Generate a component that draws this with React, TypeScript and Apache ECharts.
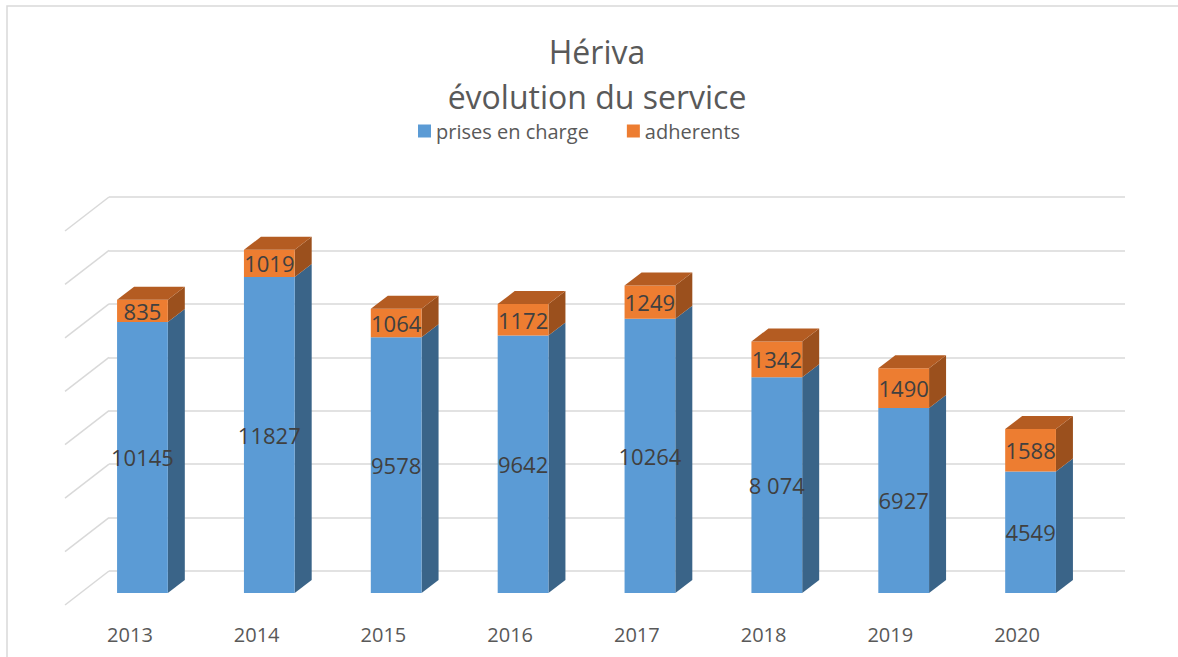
import React, { useEffect, useRef } from "react";
import * as echarts from "echarts";

const years = ["2013", "2014", "2015", "2016", "2017", "2018", "2019", "2020"];
const prises = [10145, 11827, 9578, 9642, 10264, 8074, 6927, 4549];
const prisesLabels = ["10145", "11827", "9578", "9642", "10264", "8 074", "6927", "4549"];
const adherents = [835, 1019, 1064, 1172, 1249, 1342, 1490, 1588];
const adherentsLabels = adherents.map((v) => String(v));
const yTicks = [0, 2000, 4000, 6000, 8000, 10000, 12000, 14000];

const FONT = "Open Sans";
const DX = 17;
const DY = -13;

function barRender(labels: string[], front: string, side: string, top: string, showTop: boolean) {
  return (params: any, api: any) => {
    const i = api.value(0);
    const base = api.value(1);
    const v = api.value(2);
    const p0 = api.coord([i, base]);
    const p1 = api.coord([i, base + v]);
    const band = api.size([1, 0])[0];
    const w = band * 0.4;
    const xl = p0[0] - w / 2;
    const xr = p0[0] + w / 2;
    const yb = p0[1];
    const yt = p1[1];
    const children: any[] = [
      {
        type: "polygon",
        shape: { points: [[xr, yb], [xr + DX, yb + DY], [xr + DX, yt + DY], [xr, yt]] },
        style: { fill: side },
      },
      { type: "rect", shape: { x: xl, y: yt, width: w, height: yb - yt }, style: { fill: front } },
    ];
    if (showTop) {
      children.push({
        type: "polygon",
        shape: { points: [[xl, yt], [xr, yt], [xr + DX, yt + DY], [xl + DX, yt + DY]] },
        style: { fill: top },
      });
    }
    children.push({
      type: "text",
      style: {
        text: labels[params.dataIndex],
        x: (xl + xr) / 2,
        y: (yb + yt) / 2,
        align: "center",
        verticalAlign: "middle",
        textAlign: "center",
        textVerticalAlign: "middle",
        fontSize: 22,
        fontFamily: FONT,
        fill: "#404040",
      },
    });
    return { type: "group", children };
  };
}

export default function App() {
  const ref = useRef<HTMLDivElement>(null);
  useEffect(() => {
    if (!ref.current) return;
    const chart = echarts.init(ref.current, null, { renderer: "svg" });
    const option: any = {
      animation: false,
      backgroundColor: "#ffffff",
      graphic: [
        {
          type: "rect",
          silent: true,
          z: -10,
          shape: { x: 7, y: 6, width: 1300, height: 800 },
          style: { fill: "none", stroke: "#d9d9d9", lineWidth: 1.5 },
        },
        {
          type: "text",
          style: {
            text: "Hériva",
            x: 597,
            y: 51,
            align: "center",
            verticalAlign: "middle",
            textAlign: "center",
            textVerticalAlign: "middle",
            fontSize: 32,
            fontFamily: FONT,
            fill: "#595959",
          },
        },
        {
          type: "text",
          style: {
            text: "évolution du service",
            x: 597,
            y: 96,
            align: "center",
            verticalAlign: "middle",
            textAlign: "center",
            textVerticalAlign: "middle",
            fontSize: 32,
            fontFamily: FONT,
            fill: "#595959",
          },
        },
      ],
      legend: {
        data: ["prises en charge", "adherents"],
        left: 413,
        top: 116,
        icon: "rect",
        itemWidth: 13,
        itemHeight: 13,
        itemGap: 38,
        textStyle: { fontSize: 20, fontFamily: FONT, color: "#595959" },
      },
      grid: [
        { left: 109, right: 53, top: 197, height: 374 },
        { left: 79, right: 84, top: 219, height: 374 },
        { left: 66.6, right: 97.6, top: 592, height: 2 },
      ],
      xAxis: [
        { gridIndex: 0, type: "category", data: years, show: false },
        { gridIndex: 1, type: "category", data: years, show: false },
        {
          gridIndex: 2,
          type: "category",
          data: years,
          axisLine: { show: false },
          axisTick: { show: false },
          axisLabel: { margin: 30, fontSize: 20, fontFamily: FONT, color: "#595959" },
        },
      ],
      yAxis: [
        {
          gridIndex: 0,
          type: "value",
          min: 0,
          max: 14000,
          interval: 2000,
          axisLabel: { show: false },
          axisLine: { show: false },
          axisTick: { show: false },
          splitLine: { show: true, lineStyle: { color: "#d9d9d9", width: 1.5 } },
        },
        { gridIndex: 1, type: "value", min: 0, max: 14000, interval: 2000, show: false, splitLine: { show: false } },
        { gridIndex: 2, type: "value", min: 0, max: 1, show: false, splitLine: { show: false } },
      ],
      series: [
        {
          type: "custom",
          name: "walls",
          xAxisIndex: 0,
          yAxisIndex: 0,
          silent: true,
          data: yTicks.map((v) => [0, v]),
          encode: { x: 0, y: 1 },
          renderItem: (params: any, api: any) => {
            const p = api.coord([0, api.value(1)]);
            const x0 = params.coordSys.x;
            return {
              type: "line",
              shape: { x1: x0, y1: p[1], x2: x0 - 44, y2: p[1] + 34 },
              style: { stroke: "#d9d9d9", lineWidth: 1.5 },
            };
          },
        },
        {
          type: "custom",
          name: "prises en charge",
          xAxisIndex: 1,
          yAxisIndex: 1,
          itemStyle: { color: "#5B9BD5" },
          data: prises.map((v, i) => [i, 0, v]),
          encode: { x: 0, y: 2 },
          renderItem: barRender(prisesLabels, "#5B9BD5", "#3A6488", "#4A80B3", false),
        },
        {
          type: "custom",
          name: "adherents",
          xAxisIndex: 1,
          yAxisIndex: 1,
          itemStyle: { color: "#ED7D31" },
          data: adherents.map((v, i) => [i, prises[i], v]),
          encode: { x: 0, y: 2 },
          renderItem: barRender(adherentsLabels, "#ED7D31", "#9B501D", "#B45C22", true),
        },
      ],
    };
    chart.setOption(option);
    return () => chart.dispose();
  }, []);
  return (
    <div
      ref={ref}
      style={{ position: "fixed", left: 0, top: 0, width: 1178, height: 657 }}
    />
  );
}
